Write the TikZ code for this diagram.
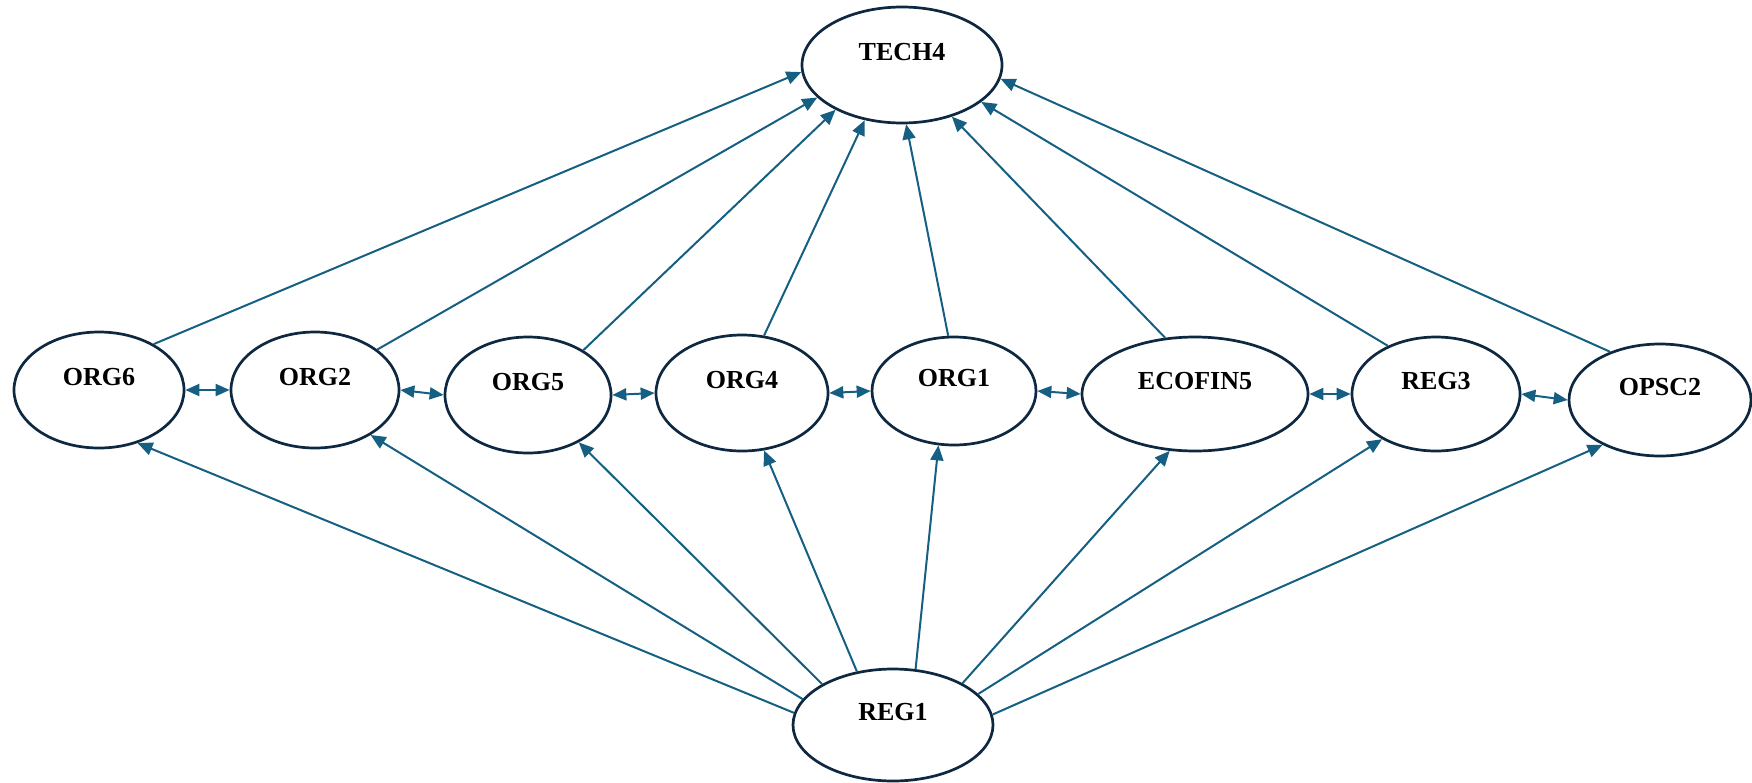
\documentclass[tikz,border=0pt]{standalone}
\usepackage{fontspec}
\setmainfont{Liberation Serif}
\usetikzlibrary{shapes.geometric,arrows.meta}
\definecolor{outline}{HTML}{0E2841}
\definecolor{linkblue}{HTML}{156082}
\tikzset{
  factor/.style={ellipse, draw=outline, line width=2.7pt, fill=white, inner sep=0pt,
    text height=17.2pt, text depth=26pt, font=\bfseries\fontsize{26}{30}\selectfont},
  influence/.style={draw=linkblue, line width=2pt, -{Triangle[length=15pt,width=13pt]}},
  mutual/.style={draw=linkblue, line width=2pt,
    {Triangle[length=14pt,width=12pt]}-{Triangle[length=14pt,width=12pt]}},
}
\begin{document}
\begin{tikzpicture}[x=1pt,y=-1pt]
\useasboundingbox (0,0) rectangle (1752,782);

% factors
\node[factor, minimum width=200pt, minimum height=116pt] (tech4) at (902,65) {TECH4};
\node[factor, minimum width=170pt, minimum height=116pt] (org6) at (99,390) {ORG6};
\node[factor, minimum width=168pt, minimum height=116pt] (org2) at (315,390) {ORG2};
\node[factor, minimum width=166pt, minimum height=116pt] (org5) at (528,395) {ORG5};
\node[factor, minimum width=172pt, minimum height=116pt] (org4) at (742,393) {ORG4};
\node[factor, minimum width=164pt, minimum height=108pt] (org1) at (954,391) {ORG1};
\node[factor, minimum width=226pt, minimum height=114pt] (ecofin5) at (1195,394) {ECOFIN5};
\node[factor, minimum width=168pt, minimum height=114pt] (reg3) at (1436,394) {REG3};
\node[factor, minimum width=182pt, minimum height=112pt] (opsc2) at (1660,400) {OPSC2};
\node[factor, minimum width=200pt, minimum height=112pt] (reg1) at (893,725) {REG1};

% middle row -> TECH4
\draw[influence] (org6.40.5)   -- (tech4.184.6);
\draw[influence] (org2.33.5)   -- (tech4.201.4);
\draw[influence] (org5.39.3)   -- (tech4.214.6);
\draw[influence] (org4.69.9)   -- (tech4.236.3);
\draw[influence] (org1.96.8)   -- (tech4.274.9);
\draw[influence] (ecofin5.118.6) -- (tech4.314.4);
\draw[influence] (reg3.135)    -- (tech4.335.2);
\draw[influence] (opsc2.136.7) -- (tech4.352.3);

% REG1 -> middle row
\draw[influence] (reg1.173.2) -- (org6.306.9);
\draw[influence] (reg1.164.6) -- (org2.321.3);
\draw[influence] (reg1.150.9) -- (org5.317.4);
\draw[influence] (reg1.124.2) -- (org4.291.3);
\draw[influence] (reg1.68.9)  -- (org1.254.2);
\draw[influence] (reg1.31.6)  -- (ecofin5.246.3);
\draw[influence] (reg1.20.6)  -- (reg3.220.6);
\draw[influence] (reg1.6.9)   -- (opsc2.218.4);

% mutual links between neighbours
\draw[mutual] (org6.east)    -- (org2.west);
\draw[mutual] (org2.east)    -- (org5.west);
\draw[mutual] (org5.east)    -- (org4.west);
\draw[mutual] (org4.east)    -- (org1.west);
\draw[mutual] (org1.east)    -- (ecofin5.west);
\draw[mutual] (ecofin5.east) -- (reg3.west);
\draw[mutual] (reg3.east)    -- (opsc2.west);
\end{tikzpicture}
\end{document}
